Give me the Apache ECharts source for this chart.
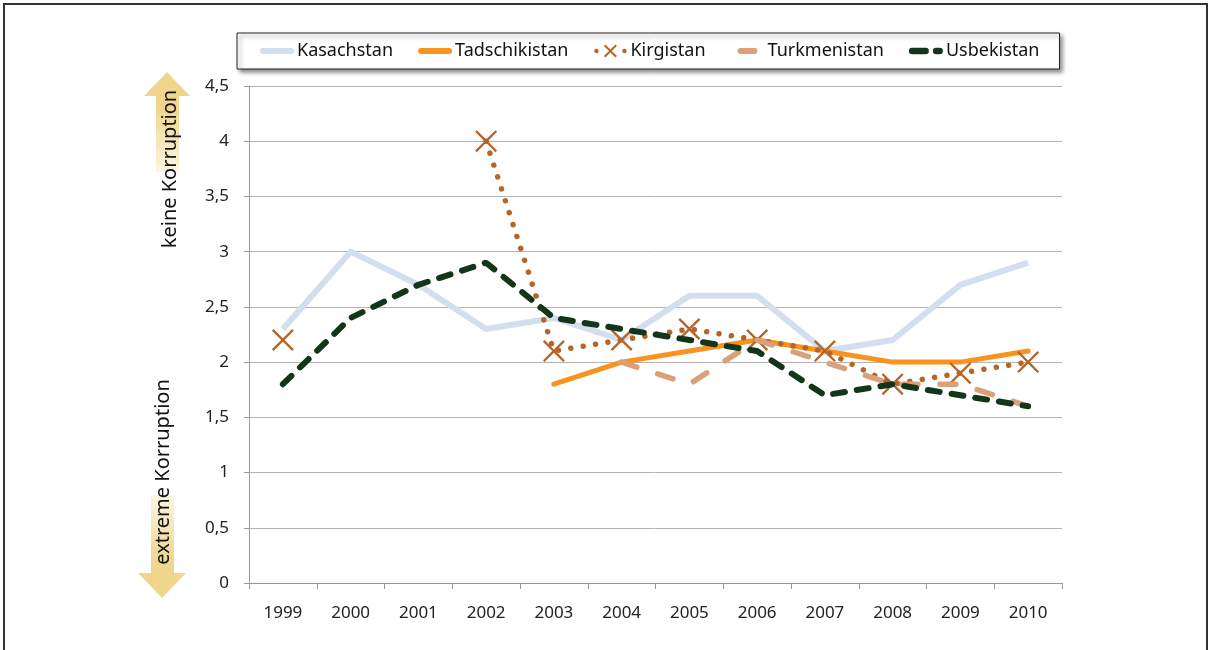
<!DOCTYPE html>
<html><head><meta charset="utf-8">
<script src="https://cdn.jsdelivr.net/npm/echarts@6/dist/echarts.min.js"></script>
<style>html,body{margin:0;padding:0;background:#fff}#c{width:1211px;height:650px}</style>
</head><body><div id="c"></div>
<script>
const years = ['1999','2000','2001','2002','2003','2004','2005','2006','2007','2008','2009','2010'];
const kasachstan    = [2.3, 3.0, 2.7, 2.3, 2.4, 2.2, 2.6, 2.6, 2.1, 2.2, 2.7, 2.9];
const tadschikistan = [null, null, null, null, 1.8, 2.0, 2.1, 2.2, 2.1, 2.0, 2.0, 2.1];
const kirgistan     = [2.2, null, null, 4.0, 2.1, 2.2, 2.3, 2.2, 2.1, 1.8, 1.9, 2.0];
const turkmenistan  = [null, null, null, null, null, 2.0, 1.8, 2.2, 2.0, 1.8, 1.8, 1.6];
const usbekistan    = [1.8, 2.4, 2.7, 2.9, 2.4, 2.3, 2.2, 2.1, 1.7, 1.8, 1.7, 1.6];
const seriesNames = ['Kasachstan','Tadschikistan','Kirgistan','Turkmenistan','Usbekistan'];
const yTopLabel = 'keine Korruption';
const yBottomLabel = 'extreme Korruption';

const FONT = '"Noto Sans", sans-serif';
const xSym = 'path://M0,1.5 L1.5,0 L10,8.5 L18.5,0 L20,1.5 L11.5,10 L20,18.5 L18.5,20 L10,11.5 L1.5,20 L0,18.5 L8.5,10 Z';

// legend icons in a 36x14 box (corner points fix the bounding box)
const BOX = 'M0,0 L0,0 M36,14 L36,14 ';
function rr(x1, x2, y1, y2) {
  const r = (y2 - y1) / 2;
  return `M${x1+r},${y1} L${x2-r},${y1} A${r},${r} 0 0 1 ${x2-r},${y2} L${x1+r},${y2} A${r},${r} 0 0 1 ${x1+r},${y1} Z `;
}
function xMark(cx, cy, a, s) {
  return `M${cx-a},${cy-a+s} L${cx-a+s},${cy-a} L${cx},${cy-s} L${cx+a-s},${cy-a} L${cx+a},${cy-a+s} L${cx+s},${cy} L${cx+a},${cy+a-s} L${cx+a-s},${cy+a} L${cx},${cy+s} L${cx-a+s},${cy+a} L${cx-a},${cy+a-s} L${cx-s},${cy} Z `;
}
function dot(cx, cy, r) {
  return `M${cx+r},${cy} A${r},${r} 0 1 1 ${cx-r},${cy} A${r},${r} 0 1 1 ${cx+r},${cy} Z `;
}
const iconBar = 'path://' + BOX + rr(1, 35, 4, 10);
const iconKir = 'path://' + BOX + dot(4, 7, 2.2) + xMark(18, 7, 6.5, 1.4) + dot(32, 7, 2.2);
const iconTurk = 'path://' + BOX + rr(8, 28, 4, 10);
const iconUsb = 'path://' + BOX + rr(1, 21, 3.8, 10.2) + rr(25, 35, 3.8, 10.2);

const chart = echarts.init(document.getElementById('c'), null, {renderer:'canvas'});
const gold = '#f0d68c';
chart.setOption({
  animation: false,
  textStyle: {fontFamily: FONT},
  grid: {left: 249, right: 149, top: 86, bottom: 67},
  legend: {
    left: 237, top: 33,
    padding: [9, 20, 9, 22],
    itemGap: 24, itemWidth: 36, itemHeight: 14,
    borderColor: '#222', borderWidth: 1,
    backgroundColor: '#fff',
    shadowColor: 'rgba(0,0,0,0.45)', shadowBlur: 4, shadowOffsetX: 3, shadowOffsetY: 3,
    textStyle: {fontSize: 18, color: '#111', fontFamily: FONT, padding: [0, 0, 0, -3]},
    data: [
      {name: 'Kasachstan', icon: iconBar},
      {name: 'Tadschikistan', icon: iconBar},
      {name: 'Kirgistan', icon: iconKir},
      {name: 'Turkmenistan', icon: iconTurk},
      {name: 'Usbekistan', icon: iconUsb}
    ]
  },
  xAxis: {
    type: 'category', data: years, boundaryGap: true,
    axisLine: {lineStyle: {color: '#999', width: 1}},
    axisTick: {show: true, length: 6, lineStyle: {color: '#999'}},
    axisLabel: {fontSize: 17, color: '#222', margin: 22, fontFamily: FONT}
  },
  yAxis: {
    type: 'value', min: 0, max: 4.5, interval: 0.5,
    axisLine: {show: true, lineStyle: {color: '#999', width: 1}},
    axisTick: {show: true, length: 5, lineStyle: {color: '#999'}},
    axisLabel: {fontSize: 17, color: '#222', margin: 20, fontFamily: FONT,
      formatter: v => String(v).replace('.', ',')},
    splitLine: {lineStyle: {color: '#b4b4b4', width: 1}}
  },
  graphic: [
    {type:'rect', shape:{x:4, y:4, width:1203, height:660}, style:{fill:'none', stroke:'#333', lineWidth:2}, z:-10},
    {type:'polygon', shape:{points:[[167,72],[190,96],[179,96],[179,172],[156,172],[156,96],[144,96]]},
     style:{fill:new echarts.graphic.LinearGradient(0,0,0,1,[{offset:0,color:gold},{offset:0.35,color:gold},{offset:1,color:'rgba(240,214,140,0.25)'}])}, z:-5},
    {type:'polygon', shape:{points:[[162,598],[186,573],[174,573],[174,495],[151,495],[151,573],[138,573]]},
     style:{fill:new echarts.graphic.LinearGradient(0,0,0,1,[{offset:0,color:'rgba(240,214,140,0.25)'},{offset:0.65,color:gold},{offset:1,color:gold}])}, z:-5},
    {type:'text', x:170, y:169, rotation:Math.PI/2,
     style:{text:yTopLabel, fontSize:20, fill:'#111', fontFamily:FONT, textAlign:'center', textVerticalAlign:'middle'}, z:5},
    {type:'text', x:163, y:472, rotation:Math.PI/2,
     style:{text:yBottomLabel, fontSize:20, fill:'#111', fontFamily:FONT, textAlign:'center', textVerticalAlign:'middle'}, z:5}
  ],
  series: [
    {name:'Kasachstan', type:'line', data:kasachstan, symbol:'none', connectNulls:false,
     lineStyle:{color:'#d3dfef', width:6, join:'round'}, itemStyle:{color:'#d3dfef'}, z:1},
    {name:'Tadschikistan', type:'line', data:tadschikistan, symbol:'none',
     lineStyle:{color:'#f7931e', width:5, join:'round', cap:'round'}, itemStyle:{color:'#f7931e'}, z:2},
    {name:'Kirgistan', type:'line', data:kirgistan, symbol:xSym, symbolSize:22, showSymbol:true, showAllSymbol:true,
     connectNulls:false,
     lineStyle:{color:'#b5652a', width:5.5, type:[0.01, 12.5], cap:'round'}, itemStyle:{color:'#b5652a'}, z:3},
    {name:'Turkmenistan', type:'line', data:turkmenistan, symbol:'none',
     lineStyle:{color:'#d9a07a', width:5.5, type:[16, 22], cap:'round'}, itemStyle:{color:'#d9a07a'}, z:4},
    {name:'Usbekistan', type:'line', data:usbekistan, symbol:'none',
     lineStyle:{color:'#13351a', width:6, type:[12, 12], cap:'round'}, itemStyle:{color:'#13351a'}, z:5}
  ]
});
</script></body></html>
